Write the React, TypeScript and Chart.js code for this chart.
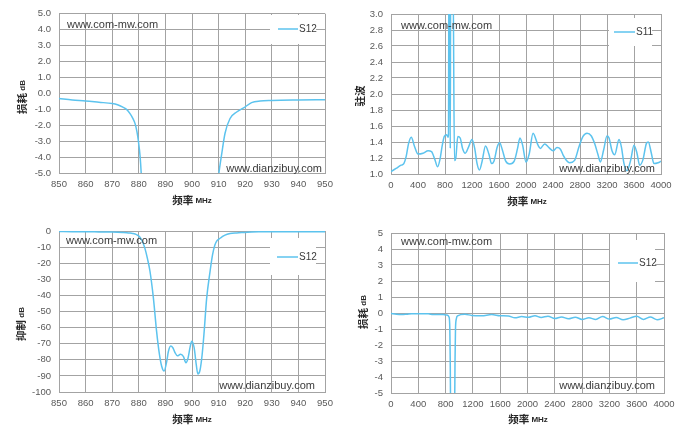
import React, { useEffect, useRef } from "react";
import { Chart, registerables } from "chart.js";

Chart.register(...registerables);

// ---------- DATA ----------
const narrowFreq = [
  850, 855, 860, 865, 870, 872, 874, 875.5, 876.7, 877.7, 878.6, 879.3, 879.8, 880.5, 881,
  881.6, 882.3, 883.3, 884.2, 885.5, 886.7, 887.7, 888.6, 889.5, 890.5, 891.1, 892, 892.8,
  893.6, 894.5, 895.7, 896.8, 897.7, 898.5, 899.3, 899.9, 900.8, 901.6, 902.2, 903, 903.8,
  904.5, 905.5, 906.8, 907.7, 908.6, 909.4, 910.2, 911.2, 912.4, 914.3, 916.8, 919.9, 922.4,
  925.6, 930, 940, 950,
];
const narrowS12 = [
  -0.33, -0.42, -0.48, -0.56, -0.64, -0.72, -0.87, -1.02, -1.27, -1.55, -1.9, -2.4, -2.94,
  -3.98, -5.3, -7.5, -10.8, -17.5, -25, -41.8, -62.5, -76, -84, -87, -81, -75, -71.4, -72.5,
  -75.5, -77.5, -76.6, -78, -81.8, -79, -72, -68.5, -72.5, -83, -88.8, -86.5, -77, -64, -42,
  -25, -15, -8.7, -6, -4.9, -3.77, -2.52, -1.58, -1.17, -0.86, -0.58, -0.48, -0.45, -0.42,
  -0.4,
];

const s11Freq = [
  0, 75, 150, 190, 225, 260, 300, 350, 400, 475, 550, 600, 650, 690, 725, 760, 790, 825, 845,
  852, 858, 868, 878, 884, 918, 940, 960, 990, 1025, 1060, 1100, 1150, 1200, 1240, 1275, 1310,
  1350, 1400, 1450, 1490, 1525, 1575, 1610, 1650, 1700, 1760, 1825, 1875, 1910, 1950, 2000,
  2050, 2104, 2178, 2212, 2276, 2340, 2400, 2460, 2510, 2548, 2600, 2647, 2720, 2785, 2844,
  2904, 2968, 3017, 3067, 3101, 3150, 3200, 3230, 3274, 3314, 3378, 3413, 3452, 3496, 3550,
  3600, 3644, 3684, 3733, 3783, 3812, 3857, 3896, 3956, 4000,
];
const s11Vswr = [
  1.03, 1.07, 1.11, 1.13, 1.22, 1.38, 1.46, 1.34, 1.25, 1.26, 1.29, 1.28, 1.18, 1.09, 1.18,
  1.36, 1.47, 1.49, 1.46, 1.5, 3.6, 3.6, 1.32, 3.6, 3.6, 1.17, 1.2, 1.47, 1.45, 1.32, 1.26,
  1.34, 1.43, 1.32, 1.13, 1.05, 1.16, 1.35, 1.25, 1.13, 1.16, 1.34, 1.39, 1.3, 1.16, 1.125,
  1.16, 1.32, 1.45, 1.36, 1.15, 1.26, 1.51, 1.36, 1.32, 1.375, 1.33, 1.29, 1.33, 1.31, 1.24,
  1.17, 1.14, 1.17, 1.34, 1.47, 1.51, 1.475, 1.38, 1.24, 1.15, 1.3, 1.475, 1.45, 1.29, 1.24,
  1.43, 1.34, 1.13, 1.04, 1.17, 1.36, 1.26, 1.11, 1.18, 1.38, 1.4, 1.26, 1.13, 1.14, 1.16,
];

const wideFreq = [
  0, 80, 156, 230, 303, 449, 547, 620, 766, 820, 850, 862, 868, 874, 932, 938, 945, 958, 975,
  1084, 1182, 1328, 1475, 1597, 1719, 1817, 1914, 2012, 2110, 2200, 2300, 2400, 2500, 2600,
  2700, 2800, 2900, 3000, 3100, 3200, 3300, 3400, 3500, 3600, 3700, 3800, 3900, 4000,
];
const wideS12 = [
  -0.03, -0.08, -0.1, -0.08, -0.05, -0.04, -0.05, -0.1, -0.1, -0.13, -0.25, -1, -3, -6, -6,
  -3, -1, -0.35, -0.18, -0.08, -0.15, -0.17, -0.1, -0.17, -0.19, -0.3, -0.22, -0.27, -0.17,
  -0.28, -0.2, -0.35, -0.25, -0.36, -0.26, -0.4, -0.3, -0.4, -0.22, -0.38, -0.28, -0.42,
  -0.32, -0.2, -0.4, -0.25, -0.42, -0.3,
];

const narrowXTicks = [850, 860, 870, 880, 890, 900, 910, 920, 930, 940, 950];
const wideXTicks = [0, 400, 800, 1200, 1600, 2000, 2400, 2800, 3200, 3600, 4000];
const lossYTicks = [5, 4, 3, 2, 1, 0, -1, -2, -3, -4, -5];
const vswrYTicks = [1.0, 1.2, 1.4, 1.6, 1.8, 2.0, 2.2, 2.4, 2.6, 2.8, 3.0];
const rejectYTicks = [0, -10, -20, -30, -40, -50, -60, -70, -80, -90, -100];
const wideLossYTicks = [5, 4, 3, 2, 1, 0, -1, -2, -3, -4, -5];

// ---------- STYLE / LAYOUT ----------
const LINE = "#5cc3ee";
const GRID = "#a3a3a3";
const TICK = "#595959";
const TEXT = "#3a3a3a";
const LATIN = '"Liberation Sans", Arial, sans-serif';
const CJK = '"Noto Sans CJK SC", sans-serif';

type PanelCfg = {
  canvas: { x: number; y: number; w: number; h: number };
  pad: { top: number; right: number };
  yw: number;
  xh: number;
  xs: number[];
  ys: number[];
  xTicks: number[];
  yTicks: number[];
  decimals: number;
  label: string;
  yTitle: [string, string];
  yTitlePos: [number, number];
  xTitlePos: [number, number];
  legendBox: [number, number, number, number];
  legendLine: [number, number, number];
  wm1: [number, number];
  wm2: [number, number];
};

const panels: PanelCfg[] = [
  {
    canvas: { x: 0, y: 0, w: 343, h: 213 },
    pad: { top: 13, right: 18 },
    yw: 59,
    xh: 40,
    xs: narrowFreq,
    ys: narrowS12,
    xTicks: narrowXTicks,
    yTicks: lossYTicks,
    decimals: 1,
    label: "S12",
    yTitle: ["损耗", " dB"],
    yTitlePos: [22, 97],
    xTitlePos: [192, 200],
    legendBox: [270, 15, 46, 29],
    legendLine: [278, 298, 29],
    wm1: [67, 25],
    wm2: [322, 169],
  },
  {
    canvas: { x: 343, y: 0, w: 344, h: 213 },
    pad: { top: 14, right: 26 },
    yw: 48,
    xh: 39,
    xs: s11Freq,
    ys: s11Vswr,
    xTicks: wideXTicks,
    yTicks: vswrYTicks,
    decimals: 1,
    label: "S11",
    yTitle: ["驻波", ""],
    yTitlePos: [360, 96],
    xTitlePos: [527, 201],
    legendBox: [609, 18, 43, 28],
    legendLine: [614, 635, 32],
    wm1: [401, 26],
    wm2: [655, 169],
  },
  {
    canvas: { x: 0, y: 213, w: 343, h: 213 },
    pad: { top: 18, right: 18 },
    yw: 59,
    xh: 34,
    xs: narrowFreq,
    ys: narrowS12,
    xTicks: narrowXTicks,
    yTicks: rejectYTicks,
    decimals: 0,
    label: "S12",
    yTitle: ["抑制", " dB"],
    yTitlePos: [21, 324],
    xTitlePos: [192, 419],
    legendBox: [270, 238, 46, 37],
    legendLine: [277, 298, 257],
    wm1: [66, 241],
    wm2: [315, 386],
  },
  {
    canvas: { x: 343, y: 213, w: 344, h: 213 },
    pad: { top: 20, right: 23 },
    yw: 48,
    xh: 33,
    xs: wideFreq,
    ys: wideS12,
    xTicks: wideXTicks,
    yTicks: wideLossYTicks,
    decimals: 0,
    label: "S12",
    yTitle: ["损耗", " dB"],
    yTitlePos: [363, 312],
    xTitlePos: [528, 419],
    legendBox: [610, 240, 45, 42],
    legendLine: [618, 638, 263],
    wm1: [401, 242],
    wm2: [655, 386],
  },
];

function drawTwoPart(
  ctx: CanvasRenderingContext2D,
  a: string,
  b: string,
  fontA: string,
  fontB: string
) {
  ctx.font = fontA;
  const wa = ctx.measureText(a).width;
  ctx.font = fontB;
  const wb = b ? ctx.measureText(b).width : 0;
  const total = wa + wb;
  ctx.textAlign = "left";
  ctx.textBaseline = "middle";
  ctx.font = fontA;
  ctx.fillText(a, -total / 2, 0);
  if (b) {
    ctx.font = fontB;
    ctx.fillText(b, -total / 2 + wa, 0.5);
  }
}

function makeOverlay(p: PanelCfg) {
  const ox = p.canvas.x;
  const oy = p.canvas.y;
  return {
    id: "overlay" + ox + "_" + oy,
    afterDatasetsDraw(chart: any) {
      const ctx: CanvasRenderingContext2D = chart.ctx;
      ctx.save();
      // watermarks
      ctx.fillStyle = TEXT;
      ctx.font = "11px " + LATIN;
      ctx.textBaseline = "middle";
      ctx.textAlign = "left";
      ctx.fillText("www.com-mw.com", p.wm1[0] - ox, p.wm1[1] - oy);
      ctx.textAlign = "right";
      ctx.fillText("www.dianzibuy.com", p.wm2[0] - ox, p.wm2[1] - oy);
      // legend
      const [bx, by, bw, bh] = p.legendBox;
      ctx.fillStyle = "#ffffff";
      ctx.fillRect(bx - ox, by - oy, bw, bh);
      const [lx1, lx2, ly] = p.legendLine;
      ctx.strokeStyle = LINE;
      ctx.lineWidth = 1.5;
      ctx.beginPath();
      ctx.moveTo(lx1 - ox, ly - oy);
      ctx.lineTo(lx2 - ox, ly - oy);
      ctx.stroke();
      ctx.fillStyle = TEXT;
      ctx.font = "10px " + LATIN;
      ctx.textAlign = "left";
      ctx.fillText(p.label, lx2 + 1 - ox, ly - oy);
      // axis titles
      ctx.fillStyle = "#262626";
      ctx.save();
      ctx.translate(p.xTitlePos[0] - ox, p.xTitlePos[1] - oy);
      drawTwoPart(ctx, "频率", " MHz", "bold 10.5px " + CJK, "bold 8px " + LATIN);
      ctx.restore();
      ctx.save();
      ctx.translate(p.yTitlePos[0] - ox, p.yTitlePos[1] - oy);
      ctx.rotate(-Math.PI / 2);
      drawTwoPart(ctx, p.yTitle[0], p.yTitle[1], "bold 10.5px " + CJK, "bold 8px " + LATIN);
      ctx.restore();
      ctx.restore();
    },
  };
}

function Panel({ p }: { p: PanelCfg }) {
  const ref = useRef<HTMLCanvasElement | null>(null);
  useEffect(() => {
    if (!ref.current) return;
    const points = p.xs.map((x, i) => ({ x, y: p.ys[i] }));
    const tickFont = { family: LATIN, size: 9.5 };
    const chart = new Chart(ref.current, {
      type: "line",
      data: {
        datasets: [
          {
            label: p.label,
            data: points,
            borderColor: LINE,
            backgroundColor: LINE,
            borderWidth: 1.5,
            pointRadius: 0,
            cubicInterpolationMode: "monotone",
            fill: false,
          },
        ],
      },
      options: {
        animation: false,
        responsive: false,
        maintainAspectRatio: false,
        events: [],
        layout: { padding: { top: p.pad.top, right: p.pad.right, left: 0, bottom: 0 } },
        plugins: { legend: { display: false }, tooltip: { enabled: false } },
        scales: {
          x: {
            type: "linear",
            min: Math.min(...p.xTicks),
            max: Math.max(...p.xTicks),
            afterBuildTicks: (scale: any) => {
              scale.ticks = p.xTicks.map((v) => ({ value: v }));
            },
            afterFit: (scale: any) => {
              scale.height = p.xh;
            },
            ticks: {
              autoSkip: false,
              maxRotation: 0,
              padding: 6,
              color: TICK,
              font: tickFont,
              callback: (v: any) => String(v),
            },
            grid: { color: GRID, lineWidth: 1, drawTicks: false },
            border: { color: GRID, width: 1 },
          },
          y: {
            type: "linear",
            min: Math.min(...p.yTicks),
            max: Math.max(...p.yTicks),
            afterBuildTicks: (scale: any) => {
              scale.ticks = p.yTicks
                .slice()
                .sort((a, b) => a - b)
                .map((v) => ({ value: v }));
            },
            afterFit: (scale: any) => {
              scale.width = p.yw;
            },
            ticks: {
              autoSkip: false,
              padding: 8,
              color: TICK,
              font: tickFont,
              callback: (v: any) => Number(v).toFixed(p.decimals),
            },
            grid: { color: GRID, lineWidth: 1, drawTicks: false },
            border: { color: GRID, width: 1 },
          },
        },
      },
      plugins: [makeOverlay(p)],
    } as any);
    return () => chart.destroy();
  }, [p]);
  return (
    <canvas
      ref={ref}
      width={p.canvas.w}
      height={p.canvas.h}
      style={{
        position: "absolute",
        left: p.canvas.x,
        top: p.canvas.y,
        width: p.canvas.w,
        height: p.canvas.h,
      }}
    />
  );
}

export default function App() {
  return (
    <div
      style={{
        position: "absolute",
        left: 0,
        top: 0,
        width: 687,
        height: 426,
        background: "#ffffff",
        overflow: "hidden",
      }}
    >
      {panels.map((p, i) => (
        <Panel key={i} p={p} />
      ))}
    </div>
  );
}
